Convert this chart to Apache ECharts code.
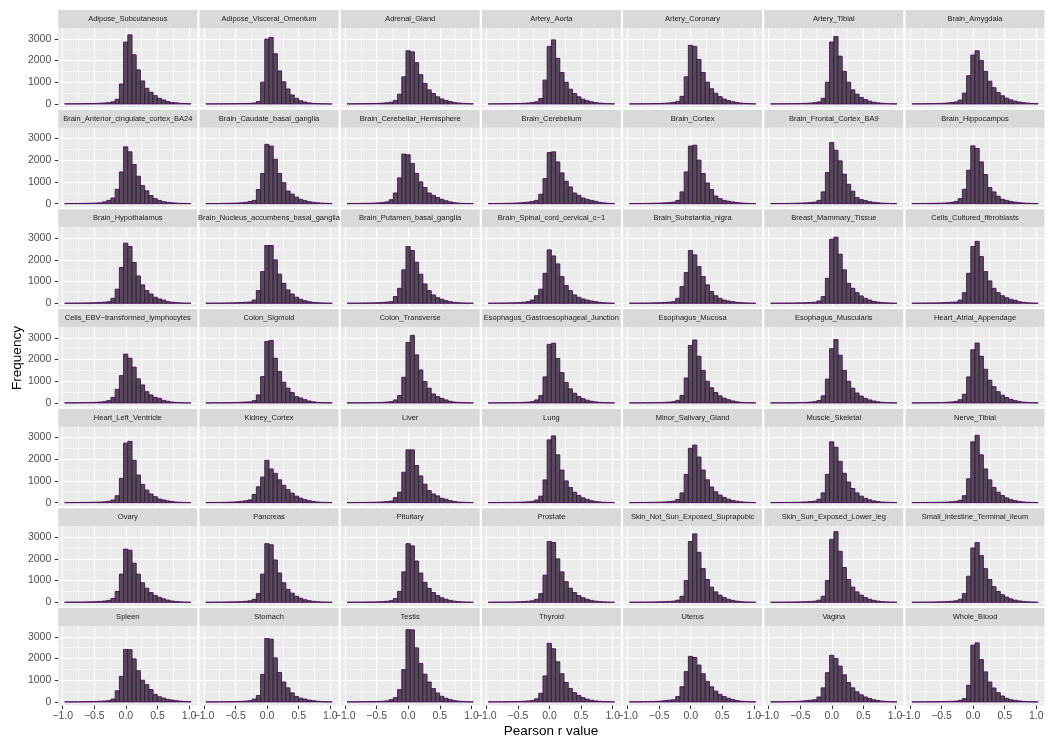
<!DOCTYPE html>
<html>
<head>
<meta charset="utf-8">
<script src="https://cdn.jsdelivr.net/npm/echarts@6.0.0/dist/echarts.min.js"></script>
<style>
  html, body { margin: 0; padding: 0; background: #fff; }
  #chart { width: 1051px; height: 740px; }
</style>
</head>
<body>
<div id="chart"></div>
<script>
// facet histograms of Pearson r per tissue (30 bins each)

const TISSUES = [
  'Adipose_Subcutaneous', 'Adipose_Visceral_Omentum', 'Adrenal_Gland', 'Artery_Aorta', 'Artery_Coronary', 'Artery_Tibial', 'Brain_Amygdala',
  'Brain_Anterior_cingulate_cortex_BA24', 'Brain_Caudate_basal_ganglia', 'Brain_Cerebellar_Hemisphere', 'Brain_Cerebellum', 'Brain_Cortex', 'Brain_Frontal_Cortex_BA9', 'Brain_Hippocampus',
  'Brain_Hypothalamus', 'Brain_Nucleus_accumbens_basal_ganglia', 'Brain_Putamen_basal_ganglia', 'Brain_Spinal_cord_cervical_c\u22121', 'Brain_Substantia_nigra', 'Breast_Mammary_Tissue', 'Cells_Cultured_fibroblasts',
  'Cells_EBV\u2212transformed_lymphocytes', 'Colon_Sigmoid', 'Colon_Transverse', 'Esophagus_Gastroesophageal_Junction', 'Esophagus_Mucosa', 'Esophagus_Muscularis', 'Heart_Atrial_Appendage',
  'Heart_Left_Ventricle', 'Kidney_Cortex', 'Liver', 'Lung', 'Minor_Salivary_Gland', 'Muscle_Skeletal', 'Nerve_Tibial',
  'Ovary', 'Pancreas', 'Pituitary', 'Prostate', 'Skin_Not_Sun_Exposed_Suprapubic', 'Skin_Sun_Exposed_Lower_leg', 'Small_Intestine_Terminal_Ileum',
  'Spleen', 'Stomach', 'Testis', 'Thyroid', 'Uterus', 'Vagina', 'Whole_Blood',
];

// bin edges (30 bins)
const BIN_EDGES = [
  -0.970, -0.903, -0.837, -0.770, -0.703, -0.637, -0.570, -0.503, -0.437, -0.370,
  -0.303, -0.237, -0.170, -0.103, -0.037, 0.030, 0.097, 0.163, 0.230, 0.297,
  0.363, 0.430, 0.497, 0.563, 0.630, 0.697, 0.763, 0.830, 0.897, 0.963, 1.030,
];

// counts per facet, one row of the facet grid per array
const ROW1_COUNTS = [
  [5,7,9,11,14,17,21,27,35,45, 60,100,215,920,2850,3180,2260,1570,1060,720, 540,385,260,185,110,70,50,30,20,10],
  [3,4,5,6,8,10,12,15,18,22, 28,45,110,1000,2985,3060,2310,1520,1020,690, 415,260,150,90,50,28,16,10,6,3],
  [5,7,9,11,14,17,22,28,38,55, 80,160,450,1250,2450,2400,1900,1350,950,650, 480,330,230,160,110,70,45,30,18,8],
  [4,6,8,10,12,15,19,24,32,45, 65,100,250,1100,2650,2950,2100,1450,1000,680, 480,330,220,150,100,65,40,25,15,8],
  [4,6,8,10,12,15,19,25,34,48, 70,120,350,1250,2700,2650,2050,1450,1000,700, 490,340,230,160,105,68,42,26,15,8],
  [4,5,7,9,11,14,18,23,30,42, 60,95,260,1000,2850,3100,2200,1500,1000,650, 450,300,200,130,80,50,32,20,12,6],
  [5,7,9,12,15,19,24,32,45,65, 95,180,500,1300,2250,2450,2000,1500,1050,750, 530,380,270,190,130,90,60,40,25,12],
];
const ROW2_COUNTS = [
  [4,6,8,10,13,16,21,28,40,80, 150,260,660,1460,2615,2385,1800,1260,830,590, 370,230,150,90,60,40,25,15,10,5],
  [4,6,8,10,13,16,21,28,40,60, 100,150,650,1390,2730,2650,2040,1390,960,580, 440,300,200,140,90,60,40,25,15,8],
  [5,7,9,12,15,20,27,38,55,80, 180,490,1185,2280,2250,1850,1390,1000,740,490, 385,280,200,130,80,45,25,12,6,3],
  [5,7,9,12,15,20,27,38,50,70, 100,150,430,1150,2350,2385,1920,1415,1030,770, 490,385,260,200,150,108,60,35,15,5],
  [4,6,8,10,13,16,21,28,38,50, 70,150,540,1460,2650,2690,2000,1385,950,650, 350,230,150,110,80,50,30,18,10,5],
  [4,6,8,10,13,16,21,28,38,50, 70,150,540,1430,2815,2460,1970,1355,890,570, 280,185,140,90,60,40,25,15,8,4],
  [4,6,8,10,13,16,21,28,40,60, 100,230,660,1540,2660,2540,1920,1340,740,540, 340,200,150,100,70,45,30,18,10,5],
];
const ROW3_COUNTS = [
  [4,6,8,10,13,16,21,28,40,55, 75,230,650,1650,2770,2615,1880,1260,850,585, 430,280,200,150,75,50,30,18,10,5],
  [4,6,8,10,13,16,21,28,38,50, 60,150,585,1460,2660,2660,2000,1340,920,615, 430,280,185,120,75,45,28,16,8,4],
  [4,6,8,10,13,16,21,28,40,55, 75,310,690,1540,2615,2430,1890,1340,890,585, 385,260,185,120,75,45,28,16,8,4],
  [5,7,9,12,15,19,25,34,50,80, 150,350,650,1380,2460,2180,1815,1230,815,585, 385,277,200,150,108,75,45,25,12,5],
  [4,6,8,10,13,16,21,28,40,55, 75,230,770,1415,2430,2230,1690,1230,850,540, 350,230,150,108,75,45,28,16,8,4],
  [3,5,6,8,10,13,17,22,30,40, 50,108,310,1150,2950,3045,2260,1540,920,690, 490,340,230,150,90,55,35,20,10,5],
  [4,6,8,10,13,16,21,28,38,50, 60,150,490,1380,2615,2850,2150,1460,1030,690, 490,350,260,185,140,75,45,25,12,5],
];
const ROW4_COUNTS = [
  [5,7,9,12,15,19,25,32,45,65, 108,260,630,1260,2250,2060,1650,1110,830,520, 370,260,215,120,77,45,25,15,8,4],
  [4,6,8,10,12,15,19,25,34,45, 50,108,370,1215,2830,2880,2060,1445,955,680, 480,290,230,155,92,55,30,18,10,5],
  [4,5,7,9,11,14,18,23,30,42, 60,140,340,1185,2785,3110,2215,1520,985,680, 415,290,215,140,77,45,25,15,8,4],
  [4,5,7,9,11,14,18,23,30,42, 60,140,340,1200,2700,2750,2050,1400,950,650, 450,300,200,130,80,50,30,18,10,5],
  [4,5,7,9,11,14,18,23,30,42, 60,120,350,1150,2650,2900,2150,1500,1000,700, 480,330,220,150,95,55,30,18,10,5],
  [4,5,7,9,11,14,18,23,30,42, 60,115,330,1100,2500,2920,2200,1500,1000,680, 460,320,210,140,90,55,30,18,10,5],
  [4,6,8,10,12,15,19,25,34,48, 70,150,400,1200,2450,2760,2150,1550,1050,750, 520,360,250,170,110,70,40,25,12,5],
];
const ROW5_COUNTS = [
  [4,5,7,9,11,14,18,23,30,42, 60,120,320,1120,2740,2820,1950,1270,840,580, 400,275,170,125,80,50,30,18,10,5],
  [6,8,10,13,17,22,30,42,60,85, 125,380,730,1180,1950,1550,1350,1050,800,600, 440,300,210,140,90,55,32,18,10,5],
  [4,6,8,10,12,15,19,25,34,50, 75,230,480,1400,2430,2430,1710,1230,850,555, 400,310,200,155,92,55,30,18,10,5],
  [4,5,7,9,11,14,18,23,30,42, 60,120,300,1045,2890,3075,2200,1500,1000,700, 480,330,220,150,90,55,32,18,10,5],
  [4,6,8,10,12,15,19,25,34,48, 70,150,450,1300,2500,2650,2100,1500,1050,720, 500,350,240,160,100,65,40,24,12,5],
  [4,6,8,10,12,15,19,25,34,48, 70,160,450,1300,2800,2550,1900,1350,950,650, 450,300,200,130,80,50,30,18,10,5],
  [4,5,7,9,11,14,18,23,30,42, 60,110,320,1100,2800,3100,2200,1550,1050,700, 480,330,220,140,90,55,32,18,10,5],
];
const ROW6_COUNTS = [
  [5,7,9,11,14,18,23,30,42,60, 90,180,500,1300,2450,2400,1800,1300,900,650, 450,320,230,160,100,60,38,22,12,5],
  [4,6,8,10,12,15,19,25,34,48, 70,140,400,1300,2700,2650,1950,1350,900,600, 420,280,190,120,75,45,28,16,8,4],
  [4,6,8,10,12,15,19,25,34,48, 75,170,500,1400,2700,2600,1900,1350,920,640, 450,310,210,140,90,55,32,18,10,5],
  [4,6,8,10,12,15,19,25,34,48, 70,140,400,1250,2800,2750,2000,1400,950,650, 450,310,210,140,90,55,32,18,10,5],
  [4,5,7,9,11,14,18,23,30,40, 55,100,280,1000,2800,3150,2300,1550,1050,700, 480,330,220,140,90,55,32,18,10,5],
  [4,5,7,9,11,14,18,23,30,40, 55,100,280,1000,2900,3250,2350,1600,1050,700, 480,330,220,140,90,55,32,18,10,5],
  [4,6,8,10,12,15,19,25,34,48, 70,140,400,1200,2500,2750,2150,1550,1050,720, 500,350,240,160,100,65,40,24,12,5],
];
const ROW7_COUNTS = [
  [4,6,8,10,12,15,19,25,34,45, 60,135,515,1180,2420,2410,1985,1440,1000,800, 575,350,240,180,120,90,60,40,25,12],
  [4,5,7,9,11,14,18,23,30,42, 60,135,300,1270,2920,2890,2030,1360,920,650, 420,255,180,135,90,60,35,20,10,5],
  [4,6,8,10,12,15,19,25,34,50, 108,200,570,1490,3330,3320,2490,1770,1280,920, 615,415,260,170,108,65,40,22,10,5],
  [4,6,8,10,12,15,19,25,34,48, 70,150,400,1200,2700,2450,1850,1300,900,620, 430,300,200,130,80,50,30,18,10,5],
  [6,8,10,13,17,22,30,42,60,85, 100,250,700,1400,2100,2050,1700,1300,950,700, 500,350,250,170,110,70,40,25,12,5],
  [6,8,10,13,17,22,30,42,60,80, 100,230,650,1350,2150,2000,1650,1250,900,650, 470,330,230,160,100,65,40,24,12,5],
  [4,5,6,8,10,12,15,19,25,32, 40,75,155,770,2615,2720,1955,1385,920,645, 430,275,170,108,75,50,30,18,10,5],
];

const X_MAJOR = [-1, -0.5, 0, 0.5, 1];
const X_MINOR = [-0.75, -0.25, 0.25, 0.75];
const Y_MAJOR = [0, 1000, 2000, 3000];
const Y_MINOR = [500, 1500, 2500];

// layout
const FONT = "'Liberation Sans', Arial, sans-serif";
const X_MIN = -1.07, X_MAX = 1.13;
const Y_MIN = -167, Y_MAX = 3497;
const NCOL = 7;
const PANEL_LEFT = 58.3, PANEL_W = 139, COL_STEP = 141.2;
const STRIP_TOP = 10, STRIP_H = 18, PANEL_H = 79.6, ROW_STEP = 99.67;

const ALL_COUNTS = [].concat(ROW1_COUNTS, ROW2_COUNTS, ROW3_COUNTS, ROW4_COUNTS,
  ROW5_COUNTS, ROW6_COUNTS, ROW7_COUNTS);

const fmtX = v => (v < 0 ? '\u2212' : '') + Math.abs(v).toFixed(1);
const fmtY = v => String(v);

const grids = [], xAxes = [], yAxes = [], series = [], graphics = [];

TISSUES.forEach((name, i) => {
  const r = Math.floor(i / NCOL), c = i % NCOL;
  const left = PANEL_LEFT + c * COL_STEP;
  const stripTop = STRIP_TOP + r * ROW_STEP;
  const top = stripTop + STRIP_H;
  const bottomRow = r === 6, leftCol = c === 0;

  grids.push({
    left, top, width: PANEL_W, height: PANEL_H,
    show: true, backgroundColor: '#EBEBEB', borderWidth: 0, containLabel: false,
  });

  // major axis (carries the data), minor axis (only thin grid lines)
  xAxes.push({
    type: 'value', gridIndex: i, min: X_MIN, max: X_MAX, position: 'bottom',
    axisLine: { show: false, onZero: false },
    axisTick: { show: bottomRow, customValues: X_MAJOR, length: 3.5,
      lineStyle: { color: '#333333', width: 1 } },
    axisLabel: { show: bottomRow, customValues: X_MAJOR, formatter: fmtX,
      color: '#4D4D4D', fontSize: 10.5, fontFamily: FONT, margin: 5 },
    splitLine: { show: true, lineStyle: { color: '#FFFFFF', width: 1.1 } },
  });
  xAxes.push({
    type: 'value', gridIndex: i, min: X_MIN, max: X_MAX, position: 'top',
    axisLine: { show: false, onZero: false },
    axisTick: { show: false, customValues: X_MINOR },
    axisLabel: { show: false, customValues: X_MINOR },
    splitLine: { show: true, lineStyle: { color: '#FFFFFF', width: 0.55 } },
  });
  yAxes.push({
    type: 'value', gridIndex: i, min: Y_MIN, max: Y_MAX, position: 'left',
    axisLine: { show: false, onZero: false },
    axisTick: { show: leftCol, customValues: Y_MAJOR, length: 3.5,
      lineStyle: { color: '#333333', width: 1 } },
    axisLabel: { show: leftCol, customValues: Y_MAJOR, formatter: fmtY,
      color: '#4D4D4D', fontSize: 10.5, fontFamily: FONT, margin: 7 },
    splitLine: { show: true, lineStyle: { color: '#FFFFFF', width: 1.1 } },
  });
  yAxes.push({
    type: 'value', gridIndex: i, min: Y_MIN, max: Y_MAX, position: 'right',
    axisLine: { show: false, onZero: false },
    axisTick: { show: false, customValues: Y_MINOR },
    axisLabel: { show: false, customValues: Y_MINOR },
    splitLine: { show: true, lineStyle: { color: '#FFFFFF', width: 0.55 } },
  });

  const counts = ALL_COUNTS[i];
  series.push({
    type: 'custom',
    name,
    xAxisIndex: 2 * i,
    yAxisIndex: 2 * i,
    silent: true,
    data: counts.map((v, k) => [BIN_EDGES[k], BIN_EDGES[k + 1], v]),
    encode: { x: [0, 1], y: 2 },
    renderItem(params, api) {
      const p0 = api.coord([api.value(0), api.value(2)]);
      const p1 = api.coord([api.value(1), 0]);
      return {
        type: 'rect',
        shape: { x: p0[0], y: p0[1], width: p1[0] - p0[0], height: p1[1] - p0[1] },
        style: { fill: '#4F4F4F', stroke: '#4B0A5A', lineWidth: 0.9 },
      };
    },
  });

  // facet strip
  graphics.push({
    type: 'rect', silent: true,
    shape: { x: left, y: stripTop, width: PANEL_W, height: STRIP_H },
    style: { fill: '#D9D9D9' },
  });
  graphics.push({
    type: 'text', silent: true,
    x: left + PANEL_W / 2, y: stripTop + STRIP_H / 2,
    style: { text: name, fill: '#1A1A1A', fontSize: 7.5, fontFamily: FONT,
      align: 'center', verticalAlign: 'middle',
      textAlign: 'center', textVerticalAlign: 'middle' },
  });
});

// axis titles
graphics.push({
  type: 'text', silent: true, x: 551, y: 731,
  style: { text: 'Pearson r value', fill: '#000000', fontSize: 13.5, fontFamily: FONT,
    align: 'center', verticalAlign: 'middle', textAlign: 'center', textVerticalAlign: 'middle' },
});
graphics.push({
  type: 'text', silent: true, x: 17, y: 358, rotation: Math.PI / 2,
  style: { text: 'Frequency', fill: '#000000', fontSize: 13.5, fontFamily: FONT,
    align: 'center', verticalAlign: 'middle', textAlign: 'center', textVerticalAlign: 'middle' },
});

const chart = echarts.init(document.getElementById('chart'), null, { renderer: 'canvas' });
chart.setOption({
  backgroundColor: '#FFFFFF',
  animation: false,
  grid: grids,
  xAxis: xAxes,
  yAxis: yAxes,
  series,
  graphic: { elements: graphics },
});
</script>
</body>
</html>
